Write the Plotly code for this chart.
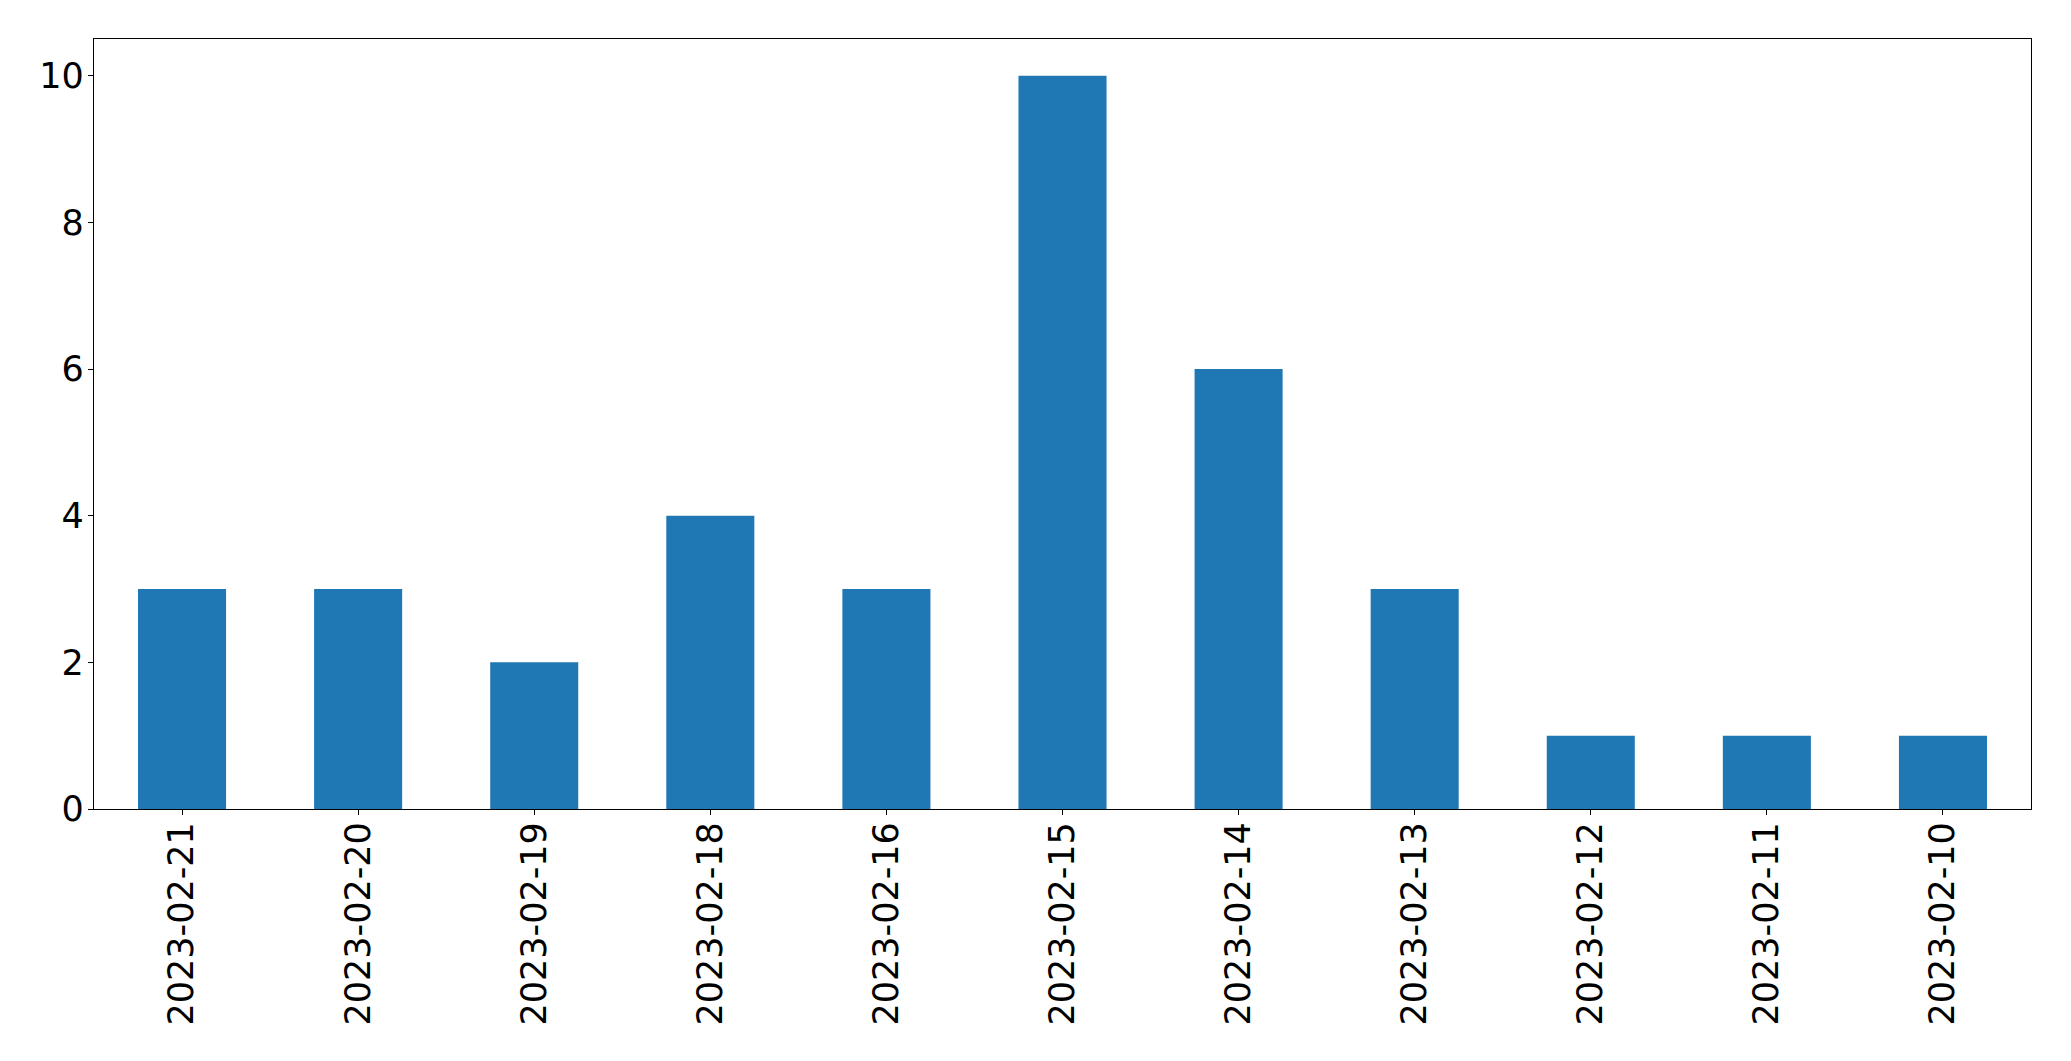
import plotly.graph_objects as go

dates = ["2023-02-21", "2023-02-20", "2023-02-19", "2023-02-18", "2023-02-16",
         "2023-02-15", "2023-02-14", "2023-02-13", "2023-02-12", "2023-02-11", "2023-02-10"]
counts = [3, 3, 2, 4, 3, 10, 6, 3, 1, 1, 1]
y_ticks = [0, 2, 4, 6, 8, 10]

fig = go.Figure(go.Bar(x=dates, y=counts, marker_color="#1f77b4", marker_line_width=0))

axis_common = dict(
    showline=True, linecolor="black", linewidth=1.3, mirror=True,
    ticks="outside", ticklen=5, tickwidth=1.3, tickcolor="black",
    showgrid=False, zeroline=False, automargin=False,
    tickfont=dict(family="DejaVu Sans", size=35, color="black"),
)

fig.update_layout(
    width=2071, height=1061,
    margin=dict(l=94, r=40, t=39, b=252),
    paper_bgcolor="white", plot_bgcolor="white",
    bargap=0.5, showlegend=False,
    xaxis=dict(type="category", categoryorder="array", categoryarray=dates,
               range=[-0.5, len(dates) - 0.5], tickangle=-90,
               ticklabelstandoff=-7, **axis_common),
    yaxis=dict(range=[0, 10.5], tickvals=y_ticks, ticktext=[str(v) for v in y_ticks],
               ticklabelstandoff=-3, **axis_common),
)

fig.write_html("out.html", config={"displayModeBar": False},
               post_script="document.body.style.margin='0';document.body.style.overflow='hidden';")
